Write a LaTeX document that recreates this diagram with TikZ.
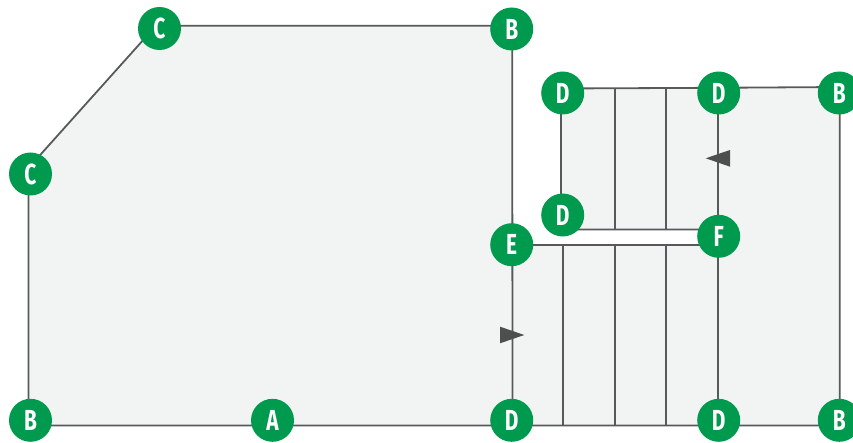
\documentclass[tikz,border=0pt]{standalone}
\usepackage{xcolor}
\usepackage{fontspec}
\usepackage{tikz}
\newfontfamily\pinfont[BoldFont={Fira Sans Bold},BoldFeatures={FakeStretch=0.72}]{Fira Sans}
\definecolor{pingreen}{HTML}{009A4E}
\definecolor{wallgrey}{HTML}{58595B}
\definecolor{floorgrey}{HTML}{F2F4F4}
\definecolor{flowgrey}{HTML}{4D4F4F}
\tikzset{
	pin/.style={circle,fill=pingreen,text=white,minimum size=43pt,inner sep=0pt,font=\pinfont\bfseries\fontsize{29}{29}\selectfont},
	wall/.style={color=wallgrey,line width=1.8pt},
	floor/.style={fill=floorgrey,draw=none},
	flow/.style={fill=flowgrey,draw=none}
}
\begin{document}
\begin{tikzpicture}[x=1pt,y=-1pt]
	\useasboundingbox (0,0) rectangle (853,443);
	\coordinate (southwest) at (28.5,425.5);
	\coordinate (westknee) at (28.5,168);
	\coordinate (northknee) at (156,25.7);
	\coordinate (northeast) at (512.2,25.7);
	\coordinate (southmid) at (512.5,425.5);
	\coordinate (southeast) at (839.7,425.5);
	\coordinate (eastend) at (839.7,87);
	\coordinate (upperwest) at (561,88.5);
	\coordinate (lowerwest) at (561,229.5);
	\coordinate (lowerright) at (717.7,229.5);
	\coordinate (upperright) at (717.7,87.8);
	\coordinate (bandwest) at (512.5,245);
	\coordinate (bandeast) at (717.7,245);
	\coordinate (southright) at (717.7,425.5);
	\coordinate (flowup) at (730,158.3);
	\coordinate (flowdown) at (500,335);
	\fill[floor] (southwest) -- (westknee) -- (northknee) -- (northeast) -- (southmid) -- cycle;
	\fill[floor] (upperwest) -- (eastend) -- (southeast) -- (southmid) -- (bandwest) -- (bandeast) -- (lowerright) -- (lowerwest) -- cycle;
	\draw[wall] (southeast) -- (southwest) -- (westknee) -- (northknee) -- (northeast) -- (southmid);
	\draw[wall] (lowerright) -- (lowerwest) -- (upperwest) -- (upperright) -- (eastend) -- (southeast);
	\draw[wall] (bandwest) -- (bandeast);
	\draw[wall] (upperright) -- (southright);
	\foreach \xcut in {615,666} {
		\draw[wall] (\xcut,88) -- (\xcut,229.5);
	}
	\foreach \xcut in {563.2,615,666} {
		\draw[wall] (\xcut,245) -- (\xcut,425.5);
	}
	\fill[flow] (flowup) -- ++(0,-8.3) -- ++(-24.3,8.3) -- ++(24.3,8.4) -- cycle;
	\fill[flow] (flowdown) -- ++(0,-8.3) -- ++(24.3,8.3) -- ++(-24.3,8.3) -- cycle;
	\draw
	node[pin] (ctop) at (159.5,28.5){C}
	node[pin] (cleft) at (30.5,174){C}
	node[pin] (btop) at (511.7,29){B}
	node[pin] (dupper) at (562.7,93){D}
	node[pin] (dmid) at (718.7,93){D}
	node[pin] (bright) at (839.3,93){B}
	node[pin] (dinner) at (562.7,215){D}
	node[pin] (e) at (511.7,244.7){E}
	node[pin] (f) at (718.7,236.3){F}
	node[pin] (bleft) at (30.5,420.3){B}
	node[pin] (a) at (272.5,420.3){A}
	node[pin] (dsouth) at (511.7,420.3){D}
	node[pin] (dright) at (718.7,420.3){D}
	node[pin] (bsouth) at (839.3,420.3){B};
\end{tikzpicture}
\end{document}
